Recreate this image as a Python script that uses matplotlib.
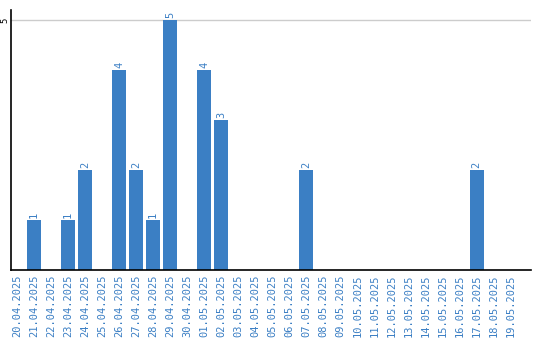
import matplotlib
matplotlib.use('Agg')
import matplotlib.pyplot as plt
from matplotlib.transforms import blended_transform_factory

dates = ['20.04.2025', '21.04.2025', '22.04.2025', '23.04.2025', '24.04.2025',
         '25.04.2025', '26.04.2025', '27.04.2025', '28.04.2025', '29.04.2025',
         '30.04.2025', '01.05.2025', '02.05.2025', '03.05.2025', '04.05.2025',
         '05.05.2025', '06.05.2025', '07.05.2025', '08.05.2025', '09.05.2025',
         '10.05.2025', '11.05.2025', '12.05.2025', '13.05.2025', '14.05.2025',
         '15.05.2025', '16.05.2025', '17.05.2025', '18.05.2025', '19.05.2025']
counts = [0, 1, 0, 1, 2, 0, 4, 2, 1, 5, 0, 4, 3, 0, 0,
          0, 0, 2, 0, 0, 0, 0, 0, 0, 0, 0, 0, 2, 0, 0]
y_ticks = [5]

blue = '#3b7fc4'
mono = 'DejaVu Sans Mono'

fig = plt.figure(figsize=(5.4, 3.4), dpi=100)
ax = fig.add_axes([10.5 / 540, 70 / 340, 520.5 / 540, 260 / 340])

x = list(range(len(dates)))
ax.bar(x, counts, width=0.82, color=blue, zorder=2)

for i, v in enumerate(counts):
    if v > 0:
        ax.text(i, v + 0.04, str(v), rotation=90, ha='center', va='bottom',
                color=blue, fontsize=7.5, family=mono)

ax.set_xlim(-0.38, 30.2)
ax.set_ylim(0, 5.2)
ax.set_xticks(x)
ax.set_xticklabels(dates, rotation=90, color=blue, fontsize=7.5, family=mono)
ax.set_yticks(y_ticks)
ax.set_yticklabels([])
ax.tick_params(length=0, pad=3)
ax.yaxis.grid(True, color='#cccccc', linewidth=1, zorder=0)

# y tick label drawn by hand so it fits in the narrow left margin
trans = blended_transform_factory(fig.transFigure, ax.transData)
for t in y_ticks:
    ax.text(5 / 540, t, str(t), transform=trans, rotation=90, ha='center',
            va='center', fontsize=6.5, family=mono, color='black')

for side in ['top', 'right']:
    ax.spines[side].set_visible(False)
ax.spines['left'].set_linewidth(1.2)
ax.spines['bottom'].set_linewidth(1.2)

fig.savefig('out.png', dpi=100)
